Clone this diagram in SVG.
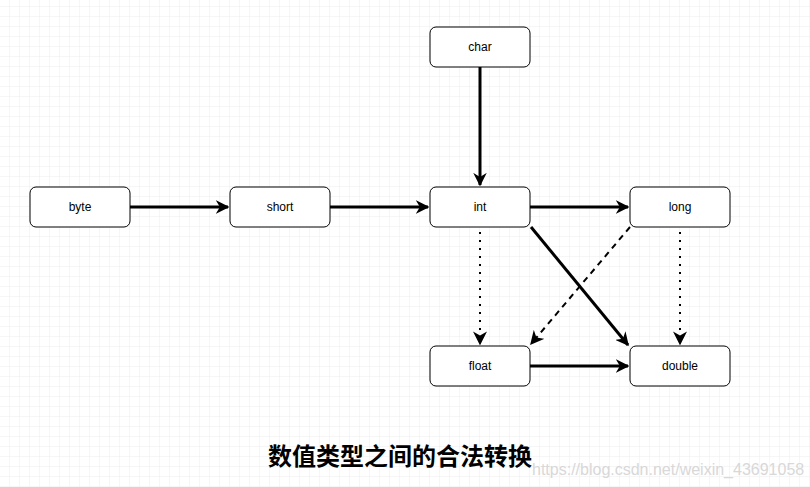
<svg xmlns="http://www.w3.org/2000/svg" width="810" height="487" viewBox="0 0 810 487">
<defs>
<pattern id="g" width="10" height="10" patternUnits="userSpaceOnUse" x="0" y="7"><path d="M10 0V10M0 10H10" fill="none" stroke="#ececec" stroke-width="1"/></pattern>
<marker id="a" viewBox="0 0 10 10" refX="9" refY="5" markerWidth="4.5" markerHeight="4.5" orient="auto" markerUnits="strokeWidth"><path d="M0 0L10 5L0 10L3 5Z" fill="#000"/></marker>
<marker id="b" viewBox="0 0 10 10" refX="9" refY="5" markerWidth="7" markerHeight="7" orient="auto" markerUnits="strokeWidth"><path d="M0 0L10 5L0 10L3 5Z" fill="#000"/></marker>
</defs>
<style>
.n rect{fill:#fff;stroke:#000;stroke-width:1}
.n text{font-family:"Liberation Sans",Arial,sans-serif;font-size:12px;text-anchor:middle;dominant-baseline:central}
.s{stroke:#000;stroke-width:3;fill:none;marker-end:url(#a)}
.d{stroke:#000;stroke-width:2;fill:none;marker-end:url(#b)}
</style>
<rect width="810" height="487" fill="#fff"/>
<rect width="810" height="487" fill="url(#g)"/>
<g id="connectors">
<path class="s" d="M130 207H228"/>
<path class="s" d="M330 207H428"/>
<path class="s" d="M480 67V185"/>
<path class="s" d="M530 207H628"/>
<path class="s" d="M530 366H628"/>
<path class="s" d="M531 227L628 345"/>
<path class="d" d="M480 232V344" stroke-dasharray="2 6"/>
<path class="d" d="M680 232V344" stroke-dasharray="2 6"/>
<path class="d" d="M630 227L531 344" stroke-dasharray="6 5"/>
</g>
<g id="byte" class="n"><rect x="30" y="187" width="100" height="40" rx="6"/><text x="80" y="207">byte</text></g>
<g id="short" class="n"><rect x="230" y="187" width="100" height="40" rx="6"/><text x="280" y="207">short</text></g>
<g id="int" class="n"><rect x="430" y="187" width="100" height="40" rx="6"/><text x="480" y="207">int</text></g>
<g id="long" class="n"><rect x="630" y="187" width="100" height="40" rx="6"/><text x="680" y="207">long</text></g>
<g id="char" class="n"><rect x="430" y="27" width="100" height="40" rx="6"/><text x="480" y="47">char</text></g>
<g id="float" class="n"><rect x="430" y="346" width="100" height="40" rx="6"/><text x="480" y="366">float</text></g>
<g id="double" class="n"><rect x="630" y="346" width="100" height="40" rx="6"/><text x="680" y="366">double</text></g>
<text x="400" y="465" text-anchor="middle" font-family="'Noto Sans CJK SC',sans-serif" font-weight="bold" font-size="24">数值类型之间的合法转换</text>
<text x="532" y="475" font-family="'Liberation Sans',Arial,sans-serif" font-size="16" fill="#d8d8d8">https://blog.csdn.net/weixin_43691058</text>
</svg>
